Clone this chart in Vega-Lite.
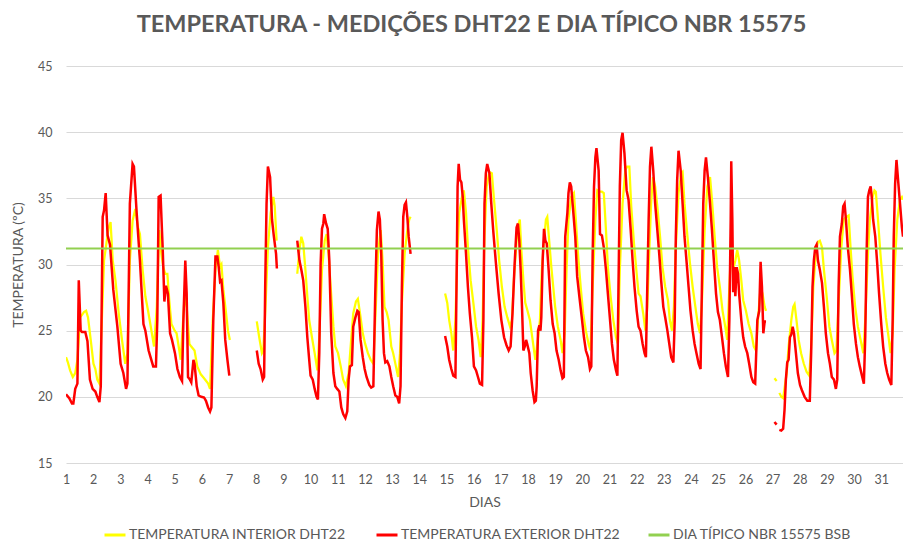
{
  "$schema": "https://vega.github.io/schema/vega-lite/v6.json",
  "width": 837,
  "height": 397,
  "autosize": "none",
  "padding": {"left": 66, "top": 66, "right": 0, "bottom": 79},
  "background": "white",
  "config": {
    "view": {"stroke": null},
    "font": "Lato, Roboto, sans-serif"
  },
  "title": {
    "text": "TEMPERATURA - MEDIÇÕES DHT22 E DIA TÍPICO NBR 15575",
    "anchor": "middle",
    "dx": -13,
    "offset": 24,
    "fontSize": 23.5,
    "fontWeight": "bold",
    "color": "#595959",
    "font": "Lato, Roboto, sans-serif"
  },
  "datasets": {
    "int": [
      {"d":1.0,"t":23.0,"g":1},{"d":1.07,"t":22.6,"g":1},{"d":1.15,"t":22.0,"g":1},{"d":1.25,"t":21.5,"g":1},{"d":1.34,"t":21.8,"g":1},{"d":1.42,"t":22.8,"g":1},{"d":1.52,"t":26.0,"g":1},{"d":1.59,"t":26.2,"g":1},{"d":1.66,"t":26.4,"g":1},{"d":1.74,"t":26.5,"g":1},{"d":1.81,"t":26.0,"g":1},{"d":1.91,"t":24.3,"g":1},{"d":2.01,"t":22.5,"g":1},{"d":2.08,"t":22.1,"g":1},{"d":2.15,"t":21.3,"g":1},{"d":2.23,"t":21.0,"g":1},{"d":2.32,"t":25.8,"g":1},{"d":2.4,"t":30.3,"g":1},{"d":2.5,"t":31.8,"g":1},{"d":2.57,"t":32.8,"g":1},{"d":2.64,"t":33.2,"g":1},{"d":2.72,"t":30.3,"g":1},{"d":2.82,"t":28.8,"g":1},{"d":2.94,"t":26.3,"g":1},{"d":3.06,"t":24.3,"g":1},{"d":3.18,"t":22.5,"g":1},{"d":3.26,"t":23.3,"g":1},{"d":3.35,"t":30.3,"g":1},{"d":3.45,"t":33.3,"g":1},{"d":3.55,"t":34.2,"g":1},{"d":3.65,"t":32.8,"g":1},{"d":3.72,"t":32.3,"g":1},{"d":3.82,"t":29.6,"g":1},{"d":3.92,"t":27.6,"g":1},{"d":4.02,"t":26.5,"g":1},{"d":4.12,"t":25.3,"g":1},{"d":4.24,"t":23.8,"g":1},{"d":4.34,"t":26.8,"g":1},{"d":4.43,"t":32.6,"g":1},{"d":4.51,"t":30.8,"g":1},{"d":4.58,"t":29.8,"g":1},{"d":4.65,"t":29.3,"g":1},{"d":4.73,"t":29.3,"g":1},{"d":4.8,"t":27.3,"g":1},{"d":4.88,"t":25.5,"g":1},{"d":5.0,"t":25.0,"g":1},{"d":5.07,"t":24.8,"g":1},{"d":5.17,"t":23.5,"g":1},{"d":5.22,"t":22.8,"g":1},{"d":5.37,"t":27.8,"g":1},{"d":5.44,"t":26.8,"g":1},{"d":5.54,"t":24.0,"g":1},{"d":5.61,"t":23.8,"g":1},{"d":5.73,"t":23.5,"g":1},{"d":5.83,"t":22.3,"g":1},{"d":5.96,"t":21.7,"g":1},{"d":6.08,"t":21.4,"g":1},{"d":6.23,"t":21.0,"g":1},{"d":6.3,"t":20.6,"g":1},{"d":6.4,"t":25.8,"g":1},{"d":6.5,"t":29.6,"g":1},{"d":6.59,"t":31.1,"g":1},{"d":6.67,"t":29.8,"g":1},{"d":6.72,"t":30.0,"g":1},{"d":6.79,"t":28.1,"g":1},{"d":6.89,"t":26.3,"g":1},{"d":6.96,"t":25.0,"g":1},{"d":7.03,"t":24.3,"g":1},
      {"d":8.02,"t":25.7,"g":2},{"d":8.11,"t":24.5,"g":2},{"d":8.21,"t":23.3,"g":2},{"d":8.26,"t":23.5,"g":2},{"d":8.33,"t":26.3,"g":2},{"d":8.43,"t":31.3,"g":2},{"d":8.53,"t":33.9,"g":2},{"d":8.63,"t":35.1,"g":2},{"d":8.68,"t":34.4,"g":2},{"d":8.75,"t":31.8,"g":2},
      {"d":9.51,"t":29.3,"g":3},{"d":9.59,"t":31.1,"g":3},{"d":9.66,"t":32.1,"g":3},{"d":9.73,"t":31.6,"g":3},{"d":9.81,"t":29.6,"g":3},{"d":9.88,"t":27.6,"g":3},{"d":9.95,"t":25.8,"g":3},{"d":10.05,"t":24.5,"g":3},{"d":10.15,"t":23.3,"g":3},{"d":10.25,"t":22.0,"g":3},{"d":10.32,"t":24.5,"g":3},{"d":10.42,"t":29.6,"g":3},{"d":10.52,"t":31.8,"g":3},{"d":10.59,"t":32.3,"g":3},{"d":10.66,"t":30.8,"g":3},{"d":10.74,"t":28.3,"g":3},{"d":10.84,"t":25.3,"g":3},{"d":10.91,"t":23.8,"g":3},{"d":11.01,"t":23.3,"g":3},{"d":11.11,"t":22.3,"g":3},{"d":11.2,"t":21.3,"g":3},{"d":11.3,"t":20.8,"g":3},{"d":11.4,"t":21.8,"g":3},{"d":11.5,"t":24.5,"g":3},{"d":11.57,"t":26.3,"g":3},{"d":11.67,"t":27.2,"g":3},{"d":11.74,"t":27.4,"g":3},{"d":11.82,"t":26.3,"g":3},{"d":11.92,"t":24.8,"g":3},{"d":12.01,"t":24.0,"g":3},{"d":12.11,"t":23.3,"g":3},{"d":12.21,"t":22.8,"g":3},{"d":12.31,"t":22.5,"g":3},{"d":12.38,"t":25.8,"g":3},{"d":12.48,"t":30.8,"g":3},{"d":12.58,"t":32.6,"g":3},{"d":12.65,"t":30.3,"g":3},{"d":12.72,"t":26.8,"g":3},{"d":12.8,"t":26.4,"g":3},{"d":12.87,"t":25.8,"g":3},{"d":12.97,"t":23.8,"g":3},{"d":13.04,"t":23.3,"g":3},{"d":13.14,"t":22.3,"g":3},{"d":13.22,"t":21.5,"g":3},{"d":13.29,"t":23.3,"g":3},{"d":13.36,"t":27.1,"g":3},{"d":13.46,"t":30.8,"g":3},{"d":13.56,"t":32.6,"g":3},{"d":13.63,"t":33.4,"g":3},{"d":13.68,"t":33.6,"g":3},
      {"d":14.95,"t":27.8,"g":4},{"d":15.03,"t":27.1,"g":4},{"d":15.1,"t":25.8,"g":4},{"d":15.18,"t":24.8,"g":4},{"d":15.25,"t":23.5,"g":4},{"d":15.33,"t":25.8,"g":4},{"d":15.4,"t":30.8,"g":4},{"d":15.47,"t":33.9,"g":4},{"d":15.57,"t":35.1,"g":4},{"d":15.64,"t":35.6,"g":4},{"d":15.72,"t":33.9,"g":4},{"d":15.79,"t":31.3,"g":4},{"d":15.89,"t":28.8,"g":4},{"d":15.99,"t":27.1,"g":4},{"d":16.09,"t":25.3,"g":4},{"d":16.18,"t":24.3,"g":4},{"d":16.26,"t":23.0,"g":4},{"d":16.33,"t":25.8,"g":4},{"d":16.4,"t":32.1,"g":4},{"d":16.48,"t":35.9,"g":4},{"d":16.58,"t":37.0,"g":4},{"d":16.67,"t":36.9,"g":4},{"d":16.75,"t":34.9,"g":4},{"d":16.85,"t":32.6,"g":4},{"d":16.94,"t":30.3,"g":4},{"d":17.04,"t":28.3,"g":4},{"d":17.14,"t":26.8,"g":4},{"d":17.24,"t":26.0,"g":4},{"d":17.34,"t":25.3,"g":4},{"d":17.41,"t":25.8,"g":4},{"d":17.48,"t":28.8,"g":4},{"d":17.58,"t":31.8,"g":4},{"d":17.66,"t":33.1,"g":4},{"d":17.7,"t":33.4,"g":4},{"d":17.75,"t":31.3,"g":4},{"d":17.83,"t":28.8,"g":4},{"d":17.9,"t":27.1,"g":4},{"d":17.97,"t":26.6,"g":4},{"d":18.07,"t":25.8,"g":4},{"d":18.17,"t":24.3,"g":4},{"d":18.27,"t":22.8,"g":4},{"d":18.37,"t":24.5,"g":4},{"d":18.44,"t":25.8,"g":4},{"d":18.51,"t":29.6,"g":4},{"d":18.59,"t":31.8,"g":4},{"d":18.66,"t":33.4,"g":4},{"d":18.71,"t":33.6,"g":4},{"d":18.78,"t":31.8,"g":4},{"d":18.86,"t":29.8,"g":4},{"d":18.93,"t":28.3,"g":4},{"d":19.0,"t":26.8,"g":4},{"d":19.1,"t":25.3,"g":4},{"d":19.2,"t":24.3,"g":4},{"d":19.27,"t":23.3,"g":4},{"d":19.35,"t":24.8,"g":4},{"d":19.42,"t":29.6,"g":4},{"d":19.49,"t":33.4,"g":4},{"d":19.59,"t":35.1,"g":4},{"d":19.69,"t":35.4,"g":4},{"d":19.76,"t":33.4,"g":4},{"d":19.84,"t":30.8,"g":4},{"d":19.94,"t":28.3,"g":4},{"d":20.03,"t":26.3,"g":4},{"d":20.13,"t":25.0,"g":4},{"d":20.23,"t":24.0,"g":4},{"d":20.3,"t":23.5,"g":4},{"d":20.38,"t":28.3,"g":4},{"d":20.48,"t":33.4,"g":4},{"d":20.55,"t":35.6,"g":4},{"d":20.62,"t":35.5,"g":4},{"d":20.72,"t":35.5,"g":4},{"d":20.79,"t":35.4,"g":4},{"d":20.87,"t":32.6,"g":4},{"d":20.94,"t":29.8,"g":4},{"d":21.04,"t":27.6,"g":4},{"d":21.14,"t":25.8,"g":4},{"d":21.24,"t":24.5,"g":4},{"d":21.31,"t":24.0,"g":4},{"d":21.38,"t":29.6,"g":4},{"d":21.48,"t":34.6,"g":4},{"d":21.58,"t":37.1,"g":4},{"d":21.65,"t":37.4,"g":4},{"d":21.73,"t":37.4,"g":4},{"d":21.8,"t":34.4,"g":4},{"d":21.9,"t":31.6,"g":4},{"d":22.0,"t":29.3,"g":4},{"d":22.07,"t":27.8,"g":4},{"d":22.14,"t":27.6,"g":4},{"d":22.24,"t":26.3,"g":4},{"d":22.32,"t":25.0,"g":4},{"d":22.39,"t":26.8,"g":4},{"d":22.46,"t":30.8,"g":4},{"d":22.53,"t":34.6,"g":4},{"d":22.6,"t":36.6,"g":4},{"d":22.68,"t":35.9,"g":4},{"d":22.76,"t":34.4,"g":4},{"d":22.86,"t":32.1,"g":4},{"d":22.95,"t":29.8,"g":4},{"d":23.05,"t":28.3,"g":4},{"d":23.15,"t":27.3,"g":4},{"d":23.22,"t":25.8,"g":4},{"d":23.3,"t":25.0,"g":4},{"d":23.37,"t":26.8,"g":4},{"d":23.44,"t":31.3,"g":4},{"d":23.54,"t":35.4,"g":4},{"d":23.64,"t":36.9,"g":4},{"d":23.69,"t":37.0,"g":4},{"d":23.76,"t":34.6,"g":4},{"d":23.86,"t":32.3,"g":4},{"d":23.96,"t":30.1,"g":4},{"d":24.06,"t":28.3,"g":4},{"d":24.16,"t":26.8,"g":4},{"d":24.25,"t":25.5,"g":4},{"d":24.33,"t":24.8,"g":4},{"d":24.4,"t":27.1,"g":4},{"d":24.5,"t":32.6,"g":4},{"d":24.6,"t":35.9,"g":4},{"d":24.7,"t":36.6,"g":4},{"d":24.77,"t":34.9,"g":4},{"d":24.87,"t":32.1,"g":4},{"d":24.96,"t":29.8,"g":4},{"d":25.06,"t":28.3,"g":4},{"d":25.16,"t":26.5,"g":4},{"d":25.26,"t":25.3,"g":4},{"d":25.33,"t":24.3,"g":4},{"d":25.41,"t":28.3,"g":4},{"d":25.48,"t":31.3,"g":4},{"d":25.55,"t":29.6,"g":4},{"d":25.63,"t":30.3,"g":4},{"d":25.7,"t":31.1,"g":4},{"d":25.77,"t":30.3,"g":4},{"d":25.85,"t":28.8,"g":4},{"d":25.92,"t":27.3,"g":4},{"d":26.02,"t":26.5,"g":4},{"d":26.12,"t":25.5,"g":4},{"d":26.22,"t":24.8,"g":4},{"d":26.31,"t":23.8,"g":4},{"d":26.39,"t":23.5,"g":4},{"d":26.46,"t":25.8,"g":4},{"d":26.56,"t":28.3,"g":4},{"d":26.63,"t":27.8,"g":4},{"d":26.71,"t":26.8,"g":4},{"d":26.76,"t":26.5,"g":4},
      {"d":27.07,"t":21.4,"g":5},{"d":27.15,"t":21.2,"g":5},
      {"d":27.25,"t":20.3,"g":6},{"d":27.32,"t":20.0,"g":6},{"d":27.39,"t":19.9,"g":6},{"d":27.52,"t":21.8,"g":6},{"d":27.59,"t":23.8,"g":6},{"d":27.69,"t":25.8,"g":6},{"d":27.76,"t":26.8,"g":6},{"d":27.81,"t":27.0,"g":6},{"d":27.88,"t":25.8,"g":6},{"d":27.96,"t":24.3,"g":6},{"d":28.05,"t":23.3,"g":6},{"d":28.15,"t":22.5,"g":6},{"d":28.25,"t":21.9,"g":6},{"d":28.35,"t":21.6,"g":6},{"d":28.42,"t":23.8,"g":6},{"d":28.5,"t":28.3,"g":6},{"d":28.59,"t":30.8,"g":6},{"d":28.67,"t":31.7,"g":6},{"d":28.74,"t":31.8,"g":6},{"d":28.82,"t":31.3,"g":6},{"d":28.89,"t":29.6,"g":6},{"d":28.99,"t":27.6,"g":6},{"d":29.09,"t":25.3,"g":6},{"d":29.18,"t":24.3,"g":6},{"d":29.28,"t":23.3,"g":6},{"d":29.35,"t":23.5,"g":6},{"d":29.43,"t":27.1,"g":6},{"d":29.53,"t":31.3,"g":6},{"d":29.62,"t":33.4,"g":6},{"d":29.72,"t":33.6,"g":6},{"d":29.8,"t":33.7,"g":6},{"d":29.87,"t":31.3,"g":6},{"d":29.94,"t":29.1,"g":6},{"d":30.04,"t":26.8,"g":6},{"d":30.14,"t":25.3,"g":6},{"d":30.24,"t":24.3,"g":6},{"d":30.34,"t":23.3,"g":6},{"d":30.41,"t":25.8,"g":6},{"d":30.51,"t":30.8,"g":6},{"d":30.58,"t":33.4,"g":6},{"d":30.68,"t":35.1,"g":6},{"d":30.75,"t":35.6,"g":6},{"d":30.8,"t":35.5,"g":6},{"d":30.88,"t":33.4,"g":6},{"d":30.97,"t":30.8,"g":6},{"d":31.07,"t":28.3,"g":6},{"d":31.17,"t":26.0,"g":6},{"d":31.27,"t":24.5,"g":6},{"d":31.34,"t":23.3,"g":6},{"d":31.42,"t":24.8,"g":6},{"d":31.49,"t":29.6,"g":6},{"d":31.59,"t":33.4,"g":6},{"d":31.69,"t":34.9,"g":6},{"d":31.76,"t":35.1,"g":6},{"d":31.8,"t":34.9,"g":6}
    ],
    "ext": [
      {"d":1.0,"t":20.2,"g":1},{"d":1.12,"t":19.9,"g":1},{"d":1.22,"t":19.5,"g":1},{"d":1.27,"t":19.5,"g":1},{"d":1.34,"t":20.6,"g":1},{"d":1.42,"t":21.0,"g":1},{"d":1.47,"t":28.8,"g":1},{"d":1.54,"t":25.0,"g":1},{"d":1.59,"t":24.9,"g":1},{"d":1.71,"t":24.9,"g":1},{"d":1.79,"t":24.2,"g":1},{"d":1.88,"t":21.3,"g":1},{"d":1.98,"t":20.6,"g":1},{"d":2.08,"t":20.4,"g":1},{"d":2.15,"t":20.0,"g":1},{"d":2.23,"t":19.6,"g":1},{"d":2.28,"t":20.8,"g":1},{"d":2.35,"t":33.6,"g":1},{"d":2.4,"t":34.1,"g":1},{"d":2.46,"t":35.4,"g":1},{"d":2.53,"t":32.2,"g":1},{"d":2.62,"t":31.5,"g":1},{"d":2.74,"t":28.1,"g":1},{"d":2.89,"t":25.3,"g":1},{"d":3.01,"t":22.5,"g":1},{"d":3.11,"t":21.8,"g":1},{"d":3.21,"t":20.6,"g":1},{"d":3.26,"t":21.0,"g":1},{"d":3.35,"t":34.6,"g":1},{"d":3.45,"t":37.6,"g":1},{"d":3.5,"t":37.4,"g":1},{"d":3.6,"t":33.9,"g":1},{"d":3.72,"t":30.3,"g":1},{"d":3.85,"t":25.5,"g":1},{"d":3.92,"t":25.0,"g":1},{"d":4.04,"t":23.5,"g":1},{"d":4.14,"t":22.8,"g":1},{"d":4.21,"t":22.3,"g":1},{"d":4.31,"t":22.3,"g":1},{"d":4.36,"t":25.8,"g":1},{"d":4.41,"t":35.1,"g":1},{"d":4.48,"t":35.2,"g":1},{"d":4.56,"t":31.1,"g":1},{"d":4.62,"t":27.2,"g":1},{"d":4.68,"t":28.4,"g":1},{"d":4.75,"t":27.8,"g":1},{"d":4.83,"t":24.8,"g":1},{"d":4.9,"t":24.3,"g":1},{"d":5.01,"t":23.3,"g":1},{"d":5.1,"t":22.1,"g":1},{"d":5.19,"t":21.5,"g":1},{"d":5.27,"t":21.2,"g":1},{"d":5.32,"t":25.8,"g":1},{"d":5.39,"t":30.3,"g":1},{"d":5.44,"t":27.8,"g":1},{"d":5.49,"t":21.5,"g":1},{"d":5.56,"t":21.3,"g":1},{"d":5.61,"t":21.1,"g":1},{"d":5.69,"t":22.8,"g":1},{"d":5.73,"t":22.5,"g":1},{"d":5.81,"t":20.8,"g":1},{"d":5.88,"t":20.1,"g":1},{"d":5.98,"t":20.0,"g":1},{"d":6.08,"t":19.95,"g":1},{"d":6.15,"t":19.7,"g":1},{"d":6.23,"t":19.2,"g":1},{"d":6.3,"t":18.9,"g":1},{"d":6.35,"t":19.2,"g":1},{"d":6.42,"t":25.8,"g":1},{"d":6.5,"t":30.6,"g":1},{"d":6.57,"t":30.6,"g":1},{"d":6.62,"t":29.8,"g":1},{"d":6.67,"t":28.7,"g":1},{"d":6.72,"t":28.8,"g":1},{"d":6.79,"t":27.1,"g":1},{"d":6.86,"t":24.3,"g":1},{"d":6.94,"t":22.8,"g":1},{"d":7.01,"t":21.6,"g":1},
      {"d":8.02,"t":23.5,"g":2},{"d":8.09,"t":22.5,"g":2},{"d":8.16,"t":22.1,"g":2},{"d":8.24,"t":21.3,"g":2},{"d":8.29,"t":21.5,"g":2},{"d":8.33,"t":28.3,"g":2},{"d":8.38,"t":34.6,"g":2},{"d":8.43,"t":37.4,"g":2},{"d":8.51,"t":36.6,"g":2},{"d":8.58,"t":33.4,"g":2},{"d":8.65,"t":32.1,"g":2},{"d":8.73,"t":30.8,"g":2},{"d":8.76,"t":29.7,"g":2},
      {"d":9.51,"t":31.8,"g":3},{"d":9.59,"t":30.3,"g":3},{"d":9.66,"t":29.6,"g":3},{"d":9.73,"t":28.8,"g":3},{"d":9.81,"t":26.8,"g":3},{"d":9.88,"t":24.5,"g":3},{"d":9.95,"t":22.8,"g":3},{"d":10.0,"t":21.6,"g":3},{"d":10.08,"t":21.3,"g":3},{"d":10.15,"t":20.6,"g":3},{"d":10.22,"t":20.0,"g":3},{"d":10.27,"t":19.8,"g":3},{"d":10.32,"t":23.3,"g":3},{"d":10.37,"t":30.1,"g":3},{"d":10.42,"t":32.7,"g":3},{"d":10.47,"t":33.1,"g":3},{"d":10.5,"t":33.8,"g":3},{"d":10.57,"t":33.1,"g":3},{"d":10.63,"t":32.7,"g":3},{"d":10.69,"t":30.3,"g":3},{"d":10.76,"t":24.8,"g":3},{"d":10.84,"t":21.8,"g":3},{"d":10.91,"t":20.8,"g":3},{"d":10.98,"t":20.6,"g":3},{"d":11.06,"t":20.4,"g":3},{"d":11.13,"t":19.2,"g":3},{"d":11.2,"t":18.7,"g":3},{"d":11.28,"t":18.4,"g":3},{"d":11.35,"t":18.9,"g":3},{"d":11.4,"t":21.3,"g":3},{"d":11.45,"t":22.3,"g":3},{"d":11.52,"t":22.4,"g":3},{"d":11.57,"t":25.3,"g":3},{"d":11.65,"t":26.0,"g":3},{"d":11.72,"t":26.5,"g":3},{"d":11.77,"t":26.4,"g":3},{"d":11.84,"t":24.3,"g":3},{"d":11.92,"t":23.0,"g":3},{"d":11.99,"t":22.1,"g":3},{"d":12.06,"t":21.5,"g":3},{"d":12.16,"t":20.9,"g":3},{"d":12.23,"t":20.7,"g":3},{"d":12.31,"t":20.8,"g":3},{"d":12.38,"t":27.8,"g":3},{"d":12.44,"t":32.6,"g":3},{"d":12.5,"t":34.0,"g":3},{"d":12.55,"t":33.4,"g":3},{"d":12.6,"t":30.8,"g":3},{"d":12.65,"t":25.8,"g":3},{"d":12.7,"t":23.3,"g":3},{"d":12.75,"t":22.6,"g":3},{"d":12.82,"t":22.7,"g":3},{"d":12.9,"t":22.3,"g":3},{"d":12.97,"t":21.5,"g":3},{"d":13.04,"t":20.8,"g":3},{"d":13.12,"t":20.1,"g":3},{"d":13.19,"t":20.0,"g":3},{"d":13.26,"t":19.5,"g":3},{"d":13.31,"t":20.8,"g":3},{"d":13.36,"t":28.3,"g":3},{"d":13.41,"t":33.6,"g":3},{"d":13.46,"t":34.5,"g":3},{"d":13.51,"t":34.7,"g":3},{"d":13.56,"t":33.6,"g":3},{"d":13.61,"t":32.1,"g":3},{"d":13.68,"t":30.8,"g":3},
      {"d":14.95,"t":24.6,"g":4},{"d":15.03,"t":23.8,"g":4},{"d":15.1,"t":22.8,"g":4},{"d":15.18,"t":22.1,"g":4},{"d":15.25,"t":21.6,"g":4},{"d":15.33,"t":21.5,"g":4},{"d":15.37,"t":28.3,"g":4},{"d":15.41,"t":35.9,"g":4},{"d":15.45,"t":37.6,"g":4},{"d":15.5,"t":36.4,"g":4},{"d":15.55,"t":36.2,"g":4},{"d":15.6,"t":35.1,"g":4},{"d":15.64,"t":33.4,"g":4},{"d":15.72,"t":30.8,"g":4},{"d":15.79,"t":28.3,"g":4},{"d":15.86,"t":26.3,"g":4},{"d":15.94,"t":24.5,"g":4},{"d":16.01,"t":22.3,"g":4},{"d":16.09,"t":22.0,"g":4},{"d":16.16,"t":21.5,"g":4},{"d":16.23,"t":21.0,"g":4},{"d":16.31,"t":20.9,"g":4},{"d":16.36,"t":25.8,"g":4},{"d":16.4,"t":34.6,"g":4},{"d":16.45,"t":36.9,"g":4},{"d":16.5,"t":37.6,"g":4},{"d":16.58,"t":36.9,"g":4},{"d":16.65,"t":34.6,"g":4},{"d":16.72,"t":32.6,"g":4},{"d":16.82,"t":30.1,"g":4},{"d":16.92,"t":27.8,"g":4},{"d":17.02,"t":25.8,"g":4},{"d":17.12,"t":24.5,"g":4},{"d":17.21,"t":23.9,"g":4},{"d":17.29,"t":23.5,"g":4},{"d":17.36,"t":23.8,"g":4},{"d":17.43,"t":26.3,"g":4},{"d":17.51,"t":30.1,"g":4},{"d":17.58,"t":32.8,"g":4},{"d":17.63,"t":33.1,"g":4},{"d":17.68,"t":31.8,"g":4},{"d":17.73,"t":29.6,"g":4},{"d":17.78,"t":26.8,"g":4},{"d":17.83,"t":23.5,"g":4},{"d":17.88,"t":23.8,"g":4},{"d":17.93,"t":24.3,"g":4},{"d":17.97,"t":24.0,"g":4},{"d":18.05,"t":23.3,"g":4},{"d":18.1,"t":21.8,"g":4},{"d":18.17,"t":20.5,"g":4},{"d":18.24,"t":19.6,"g":4},{"d":18.29,"t":19.7,"g":4},{"d":18.32,"t":20.8,"g":4},{"d":18.37,"t":25.0,"g":4},{"d":18.42,"t":25.4,"g":4},{"d":18.46,"t":25.0,"g":4},{"d":18.49,"t":26.0,"g":4},{"d":18.54,"t":30.3,"g":4},{"d":18.59,"t":32.7,"g":4},{"d":18.64,"t":31.8,"g":4},{"d":18.69,"t":31.6,"g":4},{"d":18.76,"t":29.6,"g":4},{"d":18.83,"t":27.3,"g":4},{"d":18.91,"t":25.5,"g":4},{"d":18.98,"t":24.8,"g":4},{"d":19.05,"t":23.5,"g":4},{"d":19.13,"t":22.8,"g":4},{"d":19.2,"t":22.0,"g":4},{"d":19.27,"t":21.4,"g":4},{"d":19.32,"t":21.5,"g":4},{"d":19.37,"t":32.1,"g":4},{"d":19.45,"t":33.9,"g":4},{"d":19.49,"t":35.4,"g":4},{"d":19.54,"t":36.2,"g":4},{"d":19.59,"t":35.9,"g":4},{"d":19.67,"t":33.9,"g":4},{"d":19.74,"t":32.1,"g":4},{"d":19.81,"t":29.1,"g":4},{"d":19.89,"t":27.6,"g":4},{"d":19.99,"t":25.8,"g":4},{"d":20.06,"t":24.5,"g":4},{"d":20.13,"t":23.5,"g":4},{"d":20.21,"t":23.0,"g":4},{"d":20.28,"t":22.1,"g":4},{"d":20.33,"t":22.3,"g":4},{"d":20.38,"t":30.8,"g":4},{"d":20.43,"t":35.9,"g":4},{"d":20.48,"t":38.1,"g":4},{"d":20.52,"t":38.8,"g":4},{"d":20.6,"t":37.1,"g":4},{"d":20.65,"t":32.3,"g":4},{"d":20.72,"t":32.2,"g":4},{"d":20.79,"t":31.3,"g":4},{"d":20.87,"t":29.6,"g":4},{"d":20.94,"t":27.8,"g":4},{"d":21.02,"t":25.8,"g":4},{"d":21.09,"t":24.0,"g":4},{"d":21.16,"t":22.8,"g":4},{"d":21.24,"t":22.0,"g":4},{"d":21.29,"t":21.6,"g":4},{"d":21.33,"t":28.3,"g":4},{"d":21.38,"t":35.9,"g":4},{"d":21.43,"t":39.4,"g":4},{"d":21.48,"t":39.95,"g":4},{"d":21.55,"t":38.4,"g":4},{"d":21.63,"t":35.6,"g":4},{"d":21.7,"t":34.9,"g":4},{"d":21.78,"t":32.6,"g":4},{"d":21.85,"t":30.3,"g":4},{"d":21.92,"t":28.3,"g":4},{"d":22.0,"t":26.5,"g":4},{"d":22.07,"t":25.3,"g":4},{"d":22.14,"t":25.0,"g":4},{"d":22.22,"t":24.0,"g":4},{"d":22.29,"t":23.3,"g":4},{"d":22.34,"t":23.0,"g":4},{"d":22.39,"t":28.3,"g":4},{"d":22.44,"t":33.4,"g":4},{"d":22.49,"t":37.4,"g":4},{"d":22.54,"t":38.9,"g":4},{"d":22.61,"t":37.1,"g":4},{"d":22.68,"t":34.6,"g":4},{"d":22.76,"t":32.6,"g":4},{"d":22.83,"t":30.8,"g":4},{"d":22.9,"t":28.8,"g":4},{"d":22.98,"t":26.8,"g":4},{"d":23.05,"t":26.0,"g":4},{"d":23.13,"t":25.0,"g":4},{"d":23.2,"t":24.0,"g":4},{"d":23.27,"t":23.0,"g":4},{"d":23.35,"t":22.6,"g":4},{"d":23.4,"t":25.8,"g":4},{"d":23.44,"t":32.1,"g":4},{"d":23.49,"t":36.4,"g":4},{"d":23.54,"t":38.6,"g":4},{"d":23.62,"t":37.1,"g":4},{"d":23.69,"t":34.6,"g":4},{"d":23.76,"t":32.1,"g":4},{"d":23.84,"t":30.1,"g":4},{"d":23.91,"t":28.3,"g":4},{"d":23.98,"t":26.5,"g":4},{"d":24.06,"t":25.0,"g":4},{"d":24.13,"t":24.0,"g":4},{"d":24.2,"t":23.3,"g":4},{"d":24.28,"t":22.5,"g":4},{"d":24.35,"t":22.1,"g":4},{"d":24.4,"t":28.3,"g":4},{"d":24.45,"t":34.6,"g":4},{"d":24.5,"t":37.1,"g":4},{"d":24.55,"t":38.1,"g":4},{"d":24.62,"t":36.6,"g":4},{"d":24.7,"t":34.6,"g":4},{"d":24.77,"t":32.6,"g":4},{"d":24.84,"t":30.3,"g":4},{"d":24.92,"t":27.8,"g":4},{"d":24.99,"t":26.4,"g":4},{"d":25.06,"t":25.8,"g":4},{"d":25.14,"t":24.5,"g":4},{"d":25.21,"t":23.3,"g":4},{"d":25.28,"t":22.3,"g":4},{"d":25.36,"t":21.5,"g":4},{"d":25.41,"t":25.8,"g":4},{"d":25.46,"t":33.4,"g":4},{"d":25.48,"t":37.8,"g":4},{"d":25.52,"t":33.4,"g":4},{"d":25.55,"t":27.9,"g":4},{"d":25.59,"t":29.8,"g":4},{"d":25.63,"t":27.6,"g":4},{"d":25.68,"t":29.8,"g":4},{"d":25.73,"t":29.3,"g":4},{"d":25.77,"t":27.8,"g":4},{"d":25.85,"t":25.8,"g":4},{"d":25.92,"t":24.5,"g":4},{"d":25.99,"t":23.8,"g":4},{"d":26.07,"t":23.3,"g":4},{"d":26.14,"t":22.5,"g":4},{"d":26.22,"t":21.5,"g":4},{"d":26.29,"t":21.1,"g":4},{"d":26.36,"t":21.0,"g":4},{"d":26.44,"t":25.8,"g":4},{"d":26.51,"t":26.5,"g":4},{"d":26.56,"t":30.2,"g":4},{"d":26.61,"t":28.3,"g":4},{"d":26.66,"t":24.8,"g":4},{"d":26.71,"t":25.7,"g":4},{"d":26.76,"t":25.7,"g":4},
      {"d":27.07,"t":18.1,"g":5},{"d":27.15,"t":17.9,"g":5},
      {"d":27.25,"t":17.5,"g":6},{"d":27.32,"t":17.45,"g":6},{"d":27.39,"t":17.6,"g":6},{"d":27.44,"t":19.0,"g":6},{"d":27.49,"t":21.3,"g":6},{"d":27.54,"t":22.6,"g":6},{"d":27.59,"t":22.8,"g":6},{"d":27.64,"t":24.5,"g":6},{"d":27.69,"t":24.7,"g":6},{"d":27.74,"t":25.3,"g":6},{"d":27.79,"t":24.8,"g":6},{"d":27.86,"t":23.3,"g":6},{"d":27.93,"t":21.8,"g":6},{"d":28.01,"t":20.9,"g":6},{"d":28.08,"t":20.5,"g":6},{"d":28.18,"t":20.0,"g":6},{"d":28.28,"t":19.7,"g":6},{"d":28.37,"t":19.7,"g":6},{"d":28.42,"t":23.3,"g":6},{"d":28.47,"t":28.3,"g":6},{"d":28.52,"t":30.3,"g":6},{"d":28.57,"t":31.3,"g":6},{"d":28.62,"t":31.5,"g":6},{"d":28.67,"t":30.3,"g":6},{"d":28.74,"t":29.6,"g":6},{"d":28.82,"t":28.6,"g":6},{"d":28.89,"t":26.8,"g":6},{"d":28.96,"t":24.8,"g":6},{"d":29.04,"t":23.3,"g":6},{"d":29.11,"t":22.5,"g":6},{"d":29.18,"t":21.5,"g":6},{"d":29.26,"t":21.3,"g":6},{"d":29.33,"t":20.6,"g":6},{"d":29.38,"t":21.3,"g":6},{"d":29.43,"t":28.3,"g":6},{"d":29.48,"t":32.1,"g":6},{"d":29.55,"t":33.1,"g":6},{"d":29.6,"t":34.4,"g":6},{"d":29.65,"t":34.6,"g":6},{"d":29.7,"t":33.4,"g":6},{"d":29.77,"t":31.3,"g":6},{"d":29.85,"t":29.6,"g":6},{"d":29.92,"t":27.6,"g":6},{"d":29.99,"t":25.5,"g":6},{"d":30.07,"t":24.0,"g":6},{"d":30.14,"t":23.0,"g":6},{"d":30.21,"t":22.3,"g":6},{"d":30.29,"t":21.6,"g":6},{"d":30.36,"t":21.0,"g":6},{"d":30.41,"t":24.5,"g":6},{"d":30.46,"t":30.8,"g":6},{"d":30.51,"t":35.1,"g":6},{"d":30.56,"t":35.6,"g":6},{"d":30.61,"t":35.9,"g":6},{"d":30.65,"t":35.1,"g":6},{"d":30.7,"t":33.4,"g":6},{"d":30.78,"t":32.1,"g":6},{"d":30.85,"t":30.1,"g":6},{"d":30.92,"t":27.8,"g":6},{"d":31.0,"t":25.5,"g":6},{"d":31.07,"t":23.8,"g":6},{"d":31.15,"t":22.5,"g":6},{"d":31.22,"t":21.8,"g":6},{"d":31.29,"t":21.3,"g":6},{"d":31.37,"t":20.9,"g":6},{"d":31.42,"t":25.8,"g":6},{"d":31.46,"t":32.1,"g":6},{"d":31.51,"t":36.1,"g":6},{"d":31.56,"t":37.9,"g":6},{"d":31.61,"t":36.6,"g":6},{"d":31.69,"t":34.6,"g":6},{"d":31.76,"t":32.8,"g":6},{"d":31.8,"t":32.1,"g":6}
    ],
    "nbr": [
      {"d":1.0,"t":31.2,"g":1},{"d":31.8,"t":31.2,"g":1}
    ]
  },
  "encoding": {
    "x": {
      "field": "d", "type": "quantitative",
      "scale": {"domain": [1, 31.8], "nice": false, "zero": false},
      "axis": {
        "title": "DIAS", "values": [1,2,3,4,5,6,7,8,9,10,11,12,13,14,15,16,17,18,19,20,21,22,23,24,25,26,27,28,29,30,31],
        "labelDx": -4, "ticks": false, "domain": false, "grid": false,
        "labelFontSize": 12.5, "labelColor": "#595959", "labelPadding": 10, "labelFlush": false, "labelOverlap": false,
        "titleFontSize": 14, "titleColor": "#595959", "titleFontWeight": "normal", "titlePadding": 10
      }
    },
    "y": {
      "field": "t", "type": "quantitative",
      "scale": {"domain": [15, 45], "nice": false, "zero": false},
      "axis": {
        "title": "TEMPERATURA (ºC)", "values": [15,20,25,30,35,40,45],
        "ticks": false, "domain": false, "grid": true, "gridColor": "#d9d9d9", "gridWidth": 1,
        "labelFontSize": 12.5, "labelColor": "#595959", "labelPadding": 14,
        "titleFontSize": 14, "titleColor": "#595959", "titleFontWeight": "normal", "titlePadding": 12
      }
    }
  },
  "layer": [
    {
      "data": {"name": "int"},
      "mark": {"type": "line", "strokeWidth": 2.25, "clip": true},
      "encoding": {
        "detail": {"field": "g", "type": "nominal"},
        "color": {
          "datum": "TEMPERATURA INTERIOR DHT22", "type": "nominal",
          "scale": {"domain": ["TEMPERATURA INTERIOR DHT22", "TEMPERATURA EXTERIOR DHT22", "DIA TÍPICO NBR 15575 BSB"], "range": ["#ffff00", "#ff0000", "#92d050"]},
          "legend": {
            "title": null, "orient": "none", "direction": "horizontal", "legendX": 37, "legendY": 457,
            "symbolType": "stroke", "symbolSize": 441, "symbolStrokeWidth": 3,
            "labelFontSize": 14, "labelColor": "#595959", "labelOffset": 2,
            "columnPadding": 21, "gridAlign": "all", "labelLimit": 400
          }
        }
      }
    },
    {
      "data": {"name": "ext"},
      "mark": {"type": "line", "strokeWidth": 2.5, "clip": true},
      "encoding": {
        "detail": {"field": "g", "type": "nominal"},
        "color": {"datum": "TEMPERATURA EXTERIOR DHT22", "type": "nominal"}
      }
    },
    {
      "data": {"name": "nbr"},
      "mark": {"type": "line", "strokeWidth": 2, "clip": true},
      "encoding": {
        "color": {"datum": "DIA TÍPICO NBR 15575 BSB", "type": "nominal"}
      }
    }
  ]
}
